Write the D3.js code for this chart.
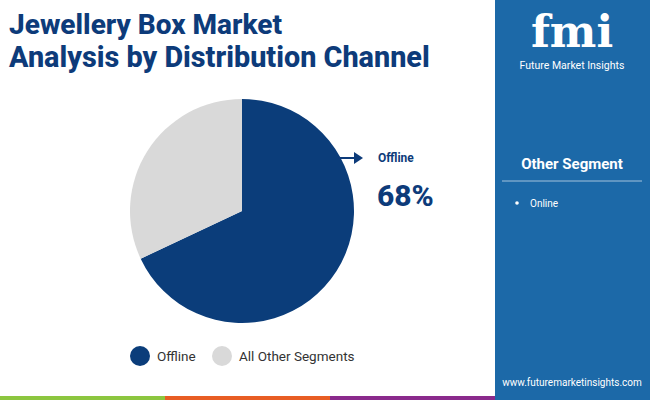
<!DOCTYPE html><html><head><meta charset="utf-8">
<script src="https://cdn.jsdelivr.net/npm/d3@7"></script>
<style>body{margin:0}svg{font-family:Roboto,sans-serif}</style></head><body>
<script>
const categories=["Offline","All Other Segments"];
const values=[68,32];
const colors=["#0b3d7a","#d9d9d9"];
const otherSegments=["Online"];
const svg=d3.select("body").append("svg").attr("width",650).attr("height",400);
svg.append("rect").attr("width",650).attr("height",400).attr("fill","#fff");
svg.append("rect").attr("x",495).attr("width",155).attr("height",400).attr("fill","#1c69a8");
[["#8cc63f",0],["#e85d24",165],["#8a2a8c",330]].forEach(([c,x])=>svg.append("rect").attr("x",x).attr("y",396).attr("width",165).attr("height",4).attr("fill",c));
svg.append("text").attr("x",9).attr("y",34).attr("font-size",28).attr("font-weight",800).attr("fill","#0d3b7a").text("Jewellery Box Market");
svg.append("text").attr("x",9).attr("y",67).attr("font-size",28.8).attr("font-weight",800).attr("fill","#0d3b7a").text("Analysis by Distribution Channel");
const pie=d3.pie().sort(null)(values);
const arc=d3.arc().innerRadius(0).outerRadius(112);
const g=svg.append("g").attr("transform","translate(242,211)");
g.selectAll("path").data(pie).join("path").attr("d",arc).attr("fill",(d,i)=>colors[i]);
svg.append("line").attr("x1",337).attr("x2",356).attr("y1",158).attr("y2",158).attr("stroke","#0d3b7a").attr("stroke-width",2);
svg.append("path").attr("d","M354,152 L363,158 L354,164Z").attr("fill","#0d3b7a");
svg.append("text").attr("x",378).attr("y",162).attr("font-size",12).attr("font-weight",700).attr("fill","#0d3b7a").text(categories[0]);
svg.append("text").attr("x",377).attr("y",206).attr("font-size",30).attr("font-weight",800).attr("fill","#0d3b7a").text(values[0]+"%");
const leg=svg.append("g");
[[140,0],[222,1]].forEach(([x,i])=>{leg.append("circle").attr("cx",x).attr("cy",356).attr("r",10).attr("fill",colors[i]);
leg.append("text").attr("x",x+17).attr("y",361).attr("font-size",13.5).attr("fill","#333").text(categories[i]);});
svg.append("text").attr("x",572).attr("y",169).attr("text-anchor","middle").attr("font-size",15).attr("font-weight",700).attr("fill","#fff").text("Other Segment");
svg.append("line").attr("x1",502).attr("x2",642).attr("y1",181).attr("y2",181).attr("stroke","#fff").attr("stroke-opacity",0.6);
otherSegments.forEach((s,i)=>{svg.append("circle").attr("cx",517).attr("cy",203+i*20).attr("r",1.8).attr("fill","#fff");
svg.append("text").attr("x",530).attr("y",207+i*20).attr("font-size",10).attr("fill","#fff").text(s);});
svg.append("text").attr("x",572).attr("y",47).attr("text-anchor","middle").attr("font-size",44).attr("font-weight",900).attr("fill","#fff").attr("font-family","'DejaVu Serif',serif").text("fmi");
svg.append("text").attr("x",572).attr("y",69).attr("text-anchor","middle").attr("font-size",10.5).attr("fill","#fff").text("Future Market Insights");
svg.append("text").attr("x",572).attr("y",386).attr("text-anchor","middle").attr("font-size",10).attr("fill","#fff").text("www.futuremarketinsights.com");
</script></body></html>
